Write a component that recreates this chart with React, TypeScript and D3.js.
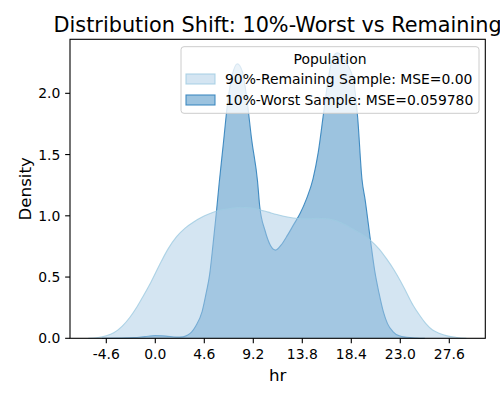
import React from "react";
import * as d3 from "d3";

const title = "Distribution Shift: 10%-Worst vs Remaining";
const xLabel = "hr";
const yLabel = "Density";
const legendTitle = "Population";
const seriesNames = ["90%-Remaining Sample: MSE=0.00", "10%-Worst Sample: MSE=0.059780"];

const xTicks = [-4.6, 0.0, 4.6, 9.2, 13.8, 18.4, 23.0, 27.6];
const yTicks = [0.0, 0.5, 1.0, 1.5, 2.0];

const remainingHr = [-6.3, -5.5, -4.6, -3.9, -3.1, -2.4, -1.7, -1.1, -0.4, 0.4, 1.2, 2.0, 2.8, 3.6, 4.4, 5.2, 6.0, 7.0, 8.0, 9.0, 9.8, 10.6, 11.4, 12.4, 13.4, 14.4, 15.2, 16.2, 17.0, 17.8, 18.6, 19.4, 20.2, 21.0, 21.7, 22.4, 23.0, 23.6, 24.2, 24.8, 25.4, 26.0, 26.7, 27.4, 28.3, 29.2];
const remainingDensity = [0, 0.005, 0.02, 0.045, 0.1, 0.17, 0.26, 0.35, 0.46, 0.6, 0.73, 0.83, 0.9, 0.95, 0.99, 1.02, 1.045, 1.06, 1.07, 1.065, 1.05, 1.03, 1.01, 0.99, 0.978, 0.975, 0.98, 0.975, 0.96, 0.93, 0.89, 0.85, 0.8, 0.73, 0.65, 0.56, 0.47, 0.37, 0.27, 0.19, 0.12, 0.07, 0.04, 0.02, 0.007, 0];

const worstHr = [-5.0, -3.5, -2.0, -1.0, 0.0, 1.0, 2.0, 2.6, 3.0, 3.4, 3.8, 4.4, 4.8, 5.1, 5.4, 5.7, 6.0, 6.4, 6.8, 7.2, 7.7, 8.2, 8.6, 9.05, 9.6, 9.8, 10.3, 10.8, 11.3, 11.8, 12.4, 13.0, 13.6, 14.2, 14.8, 15.3, 15.8, 16.3, 16.7, 17.1, 17.5, 18.0, 18.6, 19.0, 19.4, 19.7, 20.2, 20.6, 21.0, 21.4, 21.8, 22.3, 22.9, 23.6, 24.5, 25.3];
const worstDensity = [0, 0.002, 0.006, 0.014, 0.022, 0.018, 0.01, 0.012, 0.025, 0.05, 0.1, 0.22, 0.38, 0.52, 0.75, 1.0, 1.27, 1.6, 1.93, 2.14, 2.24, 2.17, 1.95, 1.62, 1.28, 1.08, 0.88, 0.76, 0.72, 0.76, 0.84, 0.93, 1.02, 1.14, 1.3, 1.52, 1.84, 2.15, 2.3, 2.33, 2.31, 2.24, 2.11, 1.8, 1.3, 1.13, 0.8, 0.55, 0.37, 0.22, 0.12, 0.055, 0.02, 0.008, 0.002, 0];

const W = 500;
const H = 400;
const left = 70;
const right = 485.3;
const top = 39.3;
const bottom = 338.3;

export default function App() {
  const x = d3.scaleLinear().domain([-8.008, 30.98]).range([left, right]);
  const y = d3.scaleLinear().domain([0, 2.441]).range([bottom, top]);

  const mk = (xs: number[], ys: number[]) => xs.map((v, i) => [v, ys[i]] as [number, number]);
  const remaining = mk(remainingHr, remainingDensity);
  const worst = mk(worstHr, worstDensity);

  const area = d3
    .area<[number, number]>()
    .x((d) => x(d[0]))
    .y0(y(0))
    .y1((d) => y(d[1]))
    .curve(d3.curveMonotoneX);
  const line = d3
    .line<[number, number]>()
    .x((d) => x(d[0]))
    .y((d) => y(d[1]))
    .curve(d3.curveMonotoneX);

  const font = "DejaVu Sans, sans-serif";
  const tickLen = 4.86;

  const darkFill = "#3182bd";
  const lightFill = "rgb(169,203,229)";

  const lx = 181;
  const ly = 46.7;
  const lw = 298;
  const lh = 66.6;

  return (
    <svg width={W} height={H} style={{ position: "absolute", left: 0, top: 0 }} fontFamily={font}>
      <rect x={0} y={0} width={W} height={H} fill="#fff" />
      <text x={(left + right) / 2} y={31.7} fontSize={20.8} textAnchor="middle" fill="#000">
        {title}
      </text>

      <g>
        <path d={area(worst) || ""} fill={darkFill} fillOpacity={0.48} />
        <path d={line(worst) || ""} fill="none" stroke={darkFill} strokeOpacity={0.9} strokeWidth={1.1} />
        <path d={area(remaining) || ""} fill={lightFill} fillOpacity={0.5} />
        <path d={line(remaining) || ""} fill="none" stroke="#9ecae1" strokeOpacity={0.8} strokeWidth={1.1} />
      </g>

      <rect x={left} y={top} width={right - left} height={bottom - top} fill="none" stroke="#000" strokeWidth={1.1} />

      {xTicks.map((t) => (
        <g key={"x" + t}>
          <line x1={x(t)} x2={x(t)} y1={bottom} y2={bottom + tickLen} stroke="#000" strokeWidth={1.1} />
          <text x={x(t)} y={bottom + tickLen + 4.86 + 10.6} fontSize={13.9} textAnchor="middle" fill="#000">
            {t.toFixed(1)}
          </text>
        </g>
      ))}
      {yTicks.map((t) => (
        <g key={"y" + t}>
          <line x1={left - tickLen} x2={left} y1={y(t)} y2={y(t)} stroke="#000" strokeWidth={1.1} />
          <text x={left - tickLen - 4.86} y={y(t)} dy="0.36em" fontSize={13.9} textAnchor="end" fill="#000">
            {t.toFixed(1)}
          </text>
        </g>
      ))}

      <text x={(left + right) / 2} y={380.7} fontSize={16.7} textAnchor="middle" fill="#000">
        {xLabel}
      </text>
      <text
        transform={`translate(31,${(top + bottom) / 2}) rotate(-90)`}
        fontSize={16.7}
        textAnchor="middle"
        fill="#000"
      >
        {yLabel}
      </text>

      <g>
        <rect x={lx} y={ly} width={lw} height={lh} rx={3} ry={3} fill="#fff" fillOpacity={0.8} stroke="#cccccc" strokeWidth={1} />
        <text x={lx + lw / 2} y={ly + 17} fontSize={13.9} textAnchor="middle" fill="#000">
          {legendTitle}
        </text>
        <rect x={186} y={74} width={29} height={10} fill={lightFill} fillOpacity={0.5} stroke="#9ecae1" strokeOpacity={0.8} strokeWidth={1.1} />
        <text x={225} y={79} dy="0.36em" fontSize={13.9} fill="#000">
          {seriesNames[0]}
        </text>
        <rect x={186} y={95} width={29} height={10} fill={darkFill} fillOpacity={0.48} stroke={darkFill} strokeOpacity={0.9} strokeWidth={1.1} />
        <text x={225} y={100} dy="0.36em" fontSize={13.9} fill="#000">
          {seriesNames[1]}
        </text>
      </g>
    </svg>
  );
}
